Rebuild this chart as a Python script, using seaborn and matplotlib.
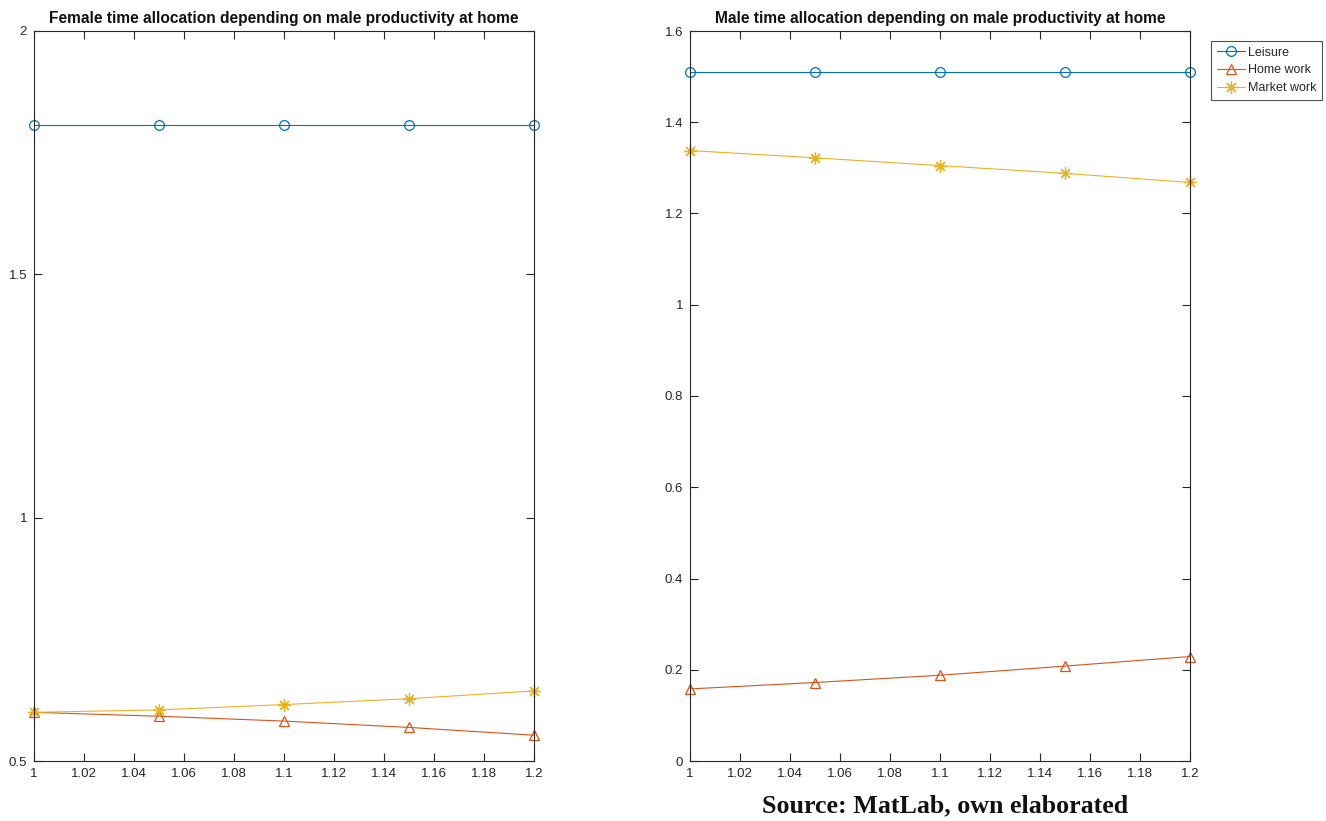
import numpy as np
import pandas as pd
import matplotlib
matplotlib.use('Agg')
import matplotlib.pyplot as plt
from matplotlib.ticker import FuncFormatter, MultipleLocator
import seaborn as sns

# male productivity at home
productivity = [1.0, 1.05, 1.1, 1.15, 1.2]

# female panel
female_leisure = [1.806, 1.806, 1.806, 1.806, 1.806]
female_home = [0.600, 0.592, 0.582, 0.569, 0.553]
female_market = [0.600, 0.605, 0.616, 0.628, 0.644]

# male panel
male_leisure = [1.510, 1.510, 1.510, 1.510, 1.510]
male_home = [0.158, 0.172, 0.188, 0.208, 0.229]
male_market = [1.338, 1.322, 1.305, 1.288, 1.268]

series_names = ['Leisure', 'Home work', 'Market work']
colors = ['#0072BD', '#D95319', '#EDB120']
markers = ['o', '^', (8, 2, 0)]


def draw_panel(ax, values, title):
    for name, vals, col, mk in zip(series_names, values, colors, markers):
        df = pd.DataFrame({'x': productivity, 'y': vals})
        sns.lineplot(data=df, x='x', y='y', ax=ax, color=col, lw=0.8,
                     marker=mk, markersize=7 if mk in ('o', '^') else 9,
                     markerfacecolor='none',
                     markeredgecolor=col, markeredgewidth=0.9, label=name,
                     clip_on=False)
    ax.set_title(title, fontsize=11.2, fontweight='bold', color='#111111', pad=6)
    ax.set_xlabel('')
    ax.set_ylabel('')
    ax.set_xlim(1, 1.2)
    ax.xaxis.set_major_locator(MultipleLocator(0.02))
    fmt = FuncFormatter(lambda v, p: '%g' % round(v, 4))
    ax.xaxis.set_major_formatter(fmt)
    ax.yaxis.set_major_formatter(fmt)
    ax.tick_params(direction='in', top=True, right=True, bottom=True, left=True,
                   length=6, width=0.8, labelsize=9.5, colors='#262626', pad=5)
    for sp in ax.spines.values():
        sp.set_visible(True)
        sp.set_color('#262626')
        sp.set_linewidth(0.8)


sns.set_style('white')
plt.rcParams['font.family'] = ['Liberation Sans', 'DejaVu Sans']

fig = plt.figure(figsize=(13.26, 8.21), dpi=100)
ax1 = fig.add_axes([34 / 1326, 1 - 761 / 821, 500 / 1326, 730 / 821])
ax2 = fig.add_axes([690 / 1326, 1 - 761 / 821, 500 / 1326, 730 / 821])

draw_panel(ax1, [female_leisure, female_home, female_market],
           'Female time allocation depending on male productivity at home')
ax1.set_ylim(0.5, 2)
ax1.yaxis.set_major_locator(MultipleLocator(0.5))
ax1.get_legend().remove()

draw_panel(ax2, [male_leisure, male_home, male_market],
           'Male time allocation depending on male productivity at home')
ax2.set_ylim(0, 1.6)
ax2.yaxis.set_major_locator(MultipleLocator(0.2))
leg = ax2.legend(loc='upper left', bbox_to_anchor=(1.042, 0.986), borderaxespad=0,
                 fontsize=9, frameon=True, fancybox=False, handlelength=2.3,
                 borderpad=0.45, labelspacing=0.45, handletextpad=0.2)
leg.get_frame().set_edgecolor('#262626')
leg.get_frame().set_linewidth(0.8)

fig.text(945 / 1326, 1 - 806 / 821, 'Source: MatLab, own elaborated',
         ha='center', va='center', fontsize=18.7, fontweight='bold',
         family=['Liberation Serif', 'DejaVu Serif'], color='#111111')

fig.savefig('out.png', dpi=100, facecolor='white')
